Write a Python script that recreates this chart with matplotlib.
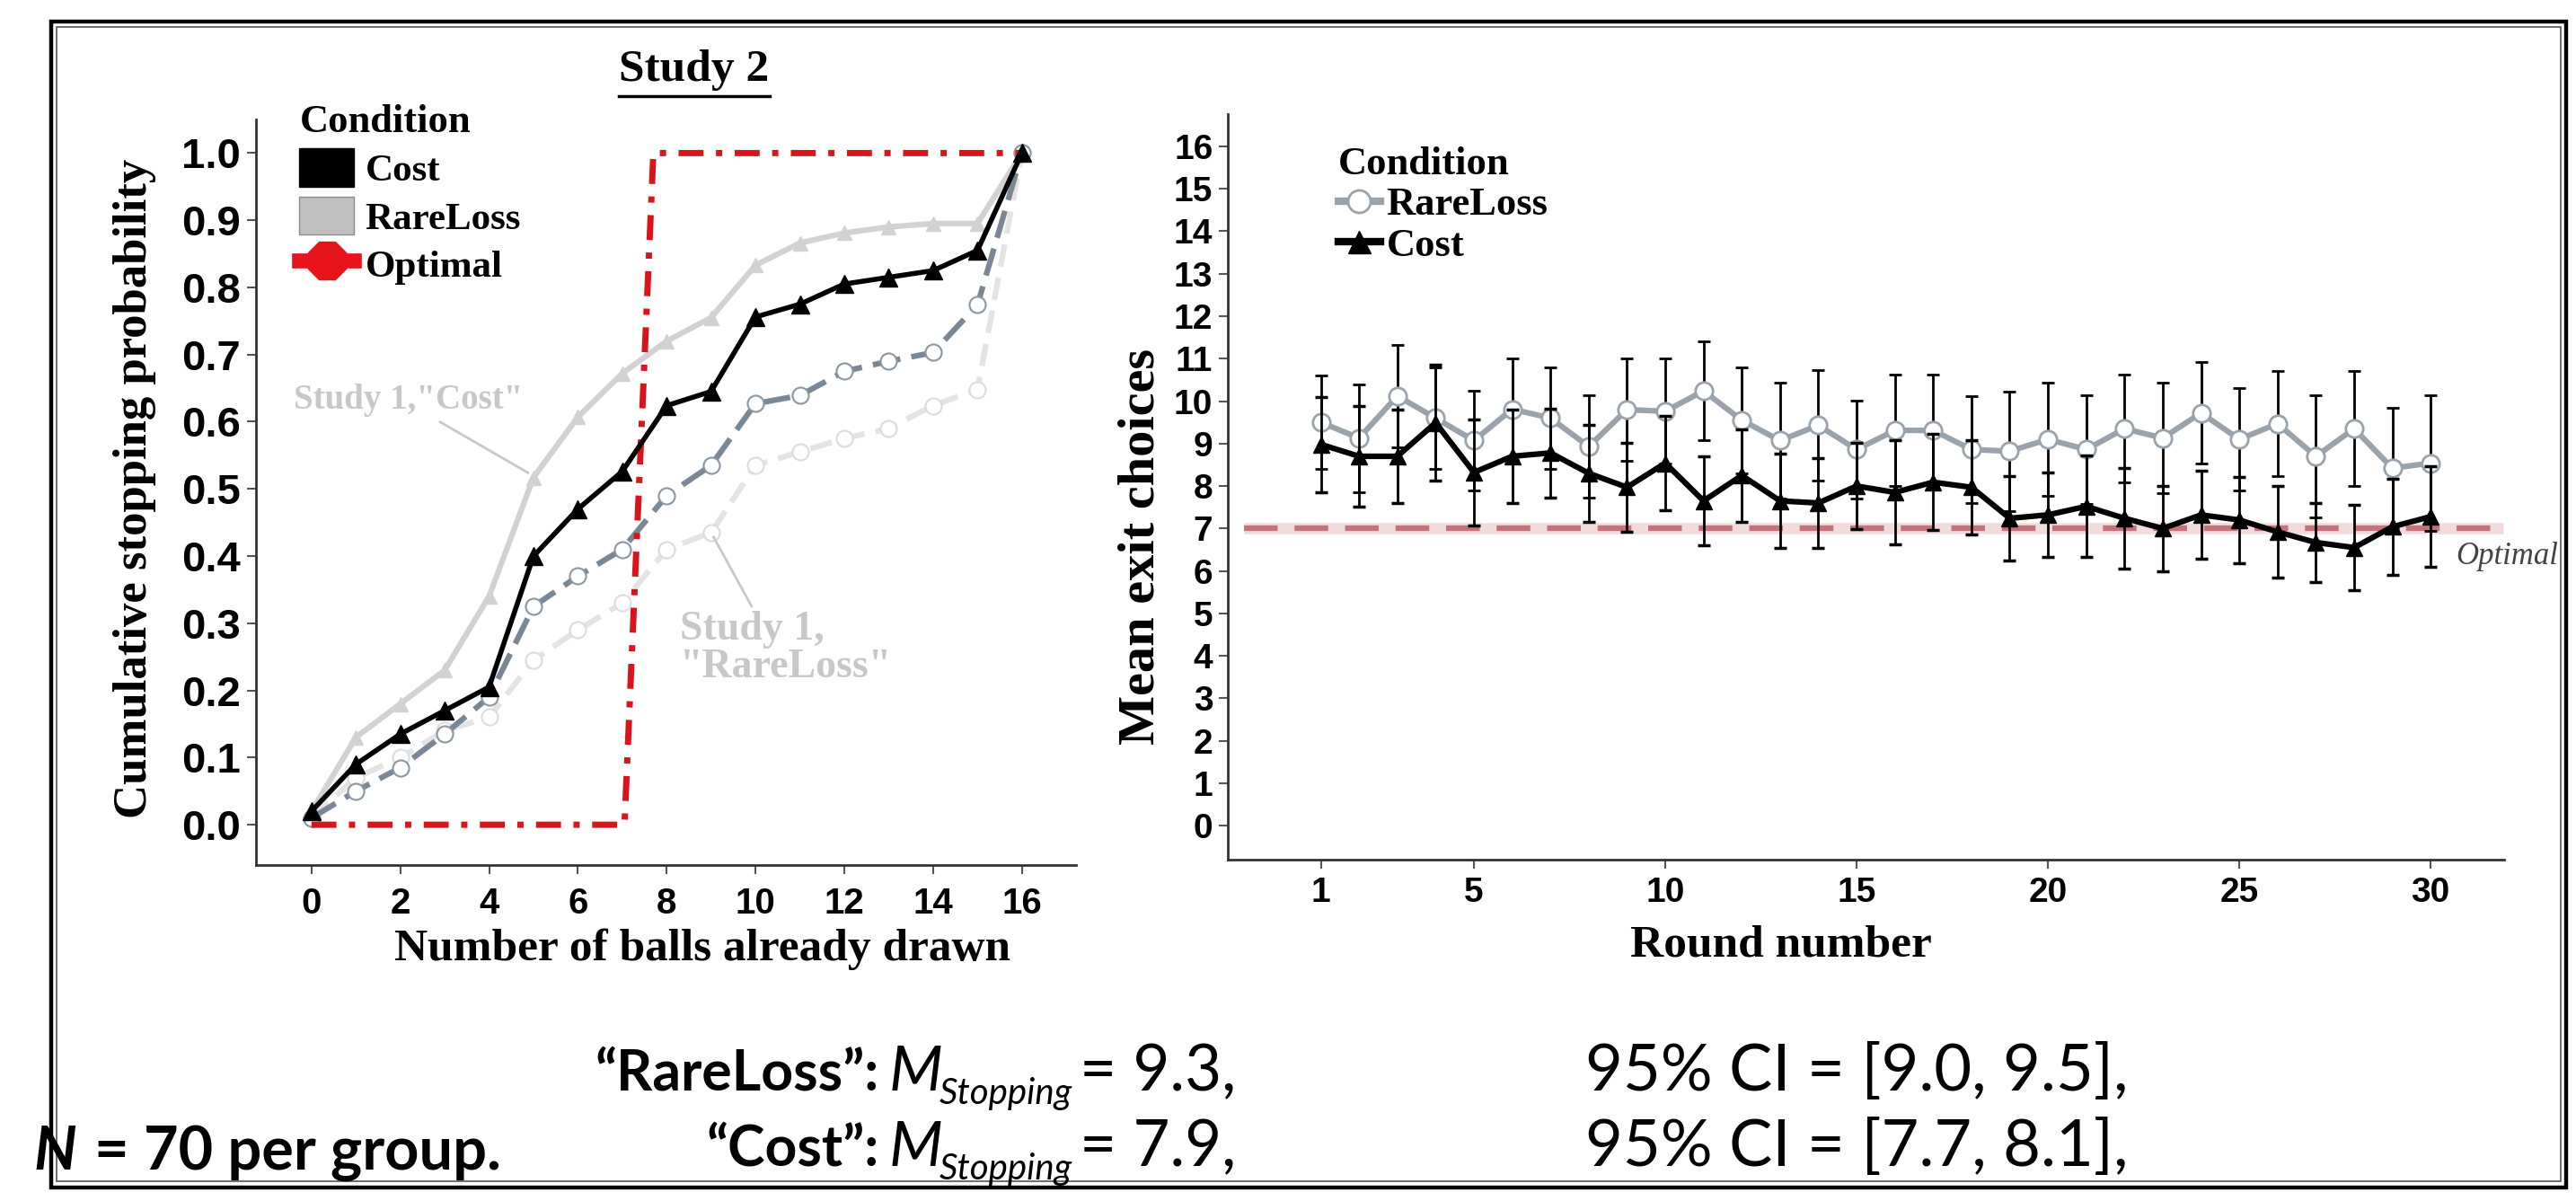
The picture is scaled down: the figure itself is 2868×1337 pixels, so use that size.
import matplotlib
matplotlib.use('Agg')
import matplotlib.pyplot as plt
from matplotlib.lines import Line2D
from matplotlib.patches import Patch, Rectangle

# ---- left panel: cumulative stopping probability ----
balls = list(range(17))
cost_s2 = [0.02, 0.09, 0.135, 0.17, 0.205, 0.40, 0.47, 0.526, 0.624, 0.645, 0.756, 0.775, 0.805, 0.815, 0.825, 0.855, 1.0]
rare_s2 = [0.01, 0.05, 0.085, 0.135, 0.19, 0.325, 0.37, 0.41, 0.49, 0.535, 0.627, 0.639, 0.675, 0.69, 0.703, 0.774, 1.0]
cost_s1 = [0.02, 0.13, 0.18, 0.23, 0.34, 0.517, 0.607, 0.672, 0.72, 0.755, 0.833, 0.866, 0.881, 0.89, 0.895, 0.895, 1.0]
rare_s1 = [0.01, 0.07, 0.10, 0.14, 0.16, 0.245, 0.29, 0.33, 0.41, 0.435, 0.535, 0.555, 0.575, 0.59, 0.624, 0.648, 1.0]
optimal_x = [0, 7.05, 7.7, 16]
optimal_y = [0, 0, 1.0, 1.0]
left_yticks = [0.0, 0.1, 0.2, 0.3, 0.4, 0.5, 0.6, 0.7, 0.8, 0.9, 1.0]
left_xticks = [0, 2, 4, 6, 8, 10, 12, 14, 16]

# ---- right panel: mean exit choices per round ----
rounds = list(range(1, 31))
rare_mean = [9.5, 9.13, 10.12, 9.6, 9.07, 9.81, 9.6, 8.93, 9.8, 9.76, 10.24, 9.55, 9.07, 9.43, 8.86,
             9.31, 9.31, 8.86, 8.82, 9.1, 8.86, 9.35, 9.13, 9.72, 9.1, 9.47, 8.7, 9.35, 8.42, 8.54]
rare_ci = [1.1, 1.27, 1.2, 1.2, 1.17, 1.19, 1.2, 1.2, 1.2, 1.24, 1.16, 1.25, 1.36, 1.3, 1.16,
           1.31, 1.31, 1.26, 1.41, 1.33, 1.28, 1.27, 1.3, 1.2, 1.2, 1.23, 1.44, 1.35, 1.42, 1.6]
cost_mean = [8.98, 8.7, 8.7, 9.49, 8.32, 8.7, 8.78, 8.3, 7.97, 8.54, 7.65, 8.25, 7.65, 7.6, 8.0,
             7.85, 8.09, 7.97, 7.24, 7.32, 7.52, 7.24, 7.0, 7.32, 7.2, 6.92, 6.67, 6.55, 7.04, 7.28]
cost_ci = [1.12, 1.19, 1.1, 1.37, 1.25, 1.1, 1.05, 1.14, 1.05, 1.12, 1.05, 1.09, 1.11, 1.06, 1.02,
           1.22, 1.13, 1.12, 1.0, 0.99, 1.19, 1.18, 1.01, 1.04, 1.01, 1.08, 0.93, 1.01, 1.13, 1.18]
optimal_round = 7
right_xticks = [1, 5, 10, 15, 20, 25, 30]
right_yticks = list(range(17))

SERIF = ['Liberation Serif', 'DejaVu Serif']
SANS = ['Liberation Sans', 'DejaVu Sans']
NOTE = ['Lato', 'DejaVu Sans']

W, H = 2868, 1337
fig = plt.figure(figsize=(W / 100, H / 100), dpi=100)
fig.patch.set_facecolor('white')

# double frame round the slide
fig.add_artist(Rectangle((57 / W, 1 - 1322 / H), (2857 - 57) / W, (1322 - 24) / H,
                         transform=fig.transFigure, fill=False, lw=3.2, ec='black'))
fig.add_artist(Rectangle((63 / W, 1 - 1315 / H), (2851 - 63) / W, (1315 - 30) / H,
                         transform=fig.transFigure, fill=False, lw=1.2, ec='#555555'))


def style_axes(ax):
    for s in ['top', 'right']:
        ax.spines[s].set_visible(False)
    for s in ['left', 'bottom']:
        ax.spines[s].set_color('#333333')
        ax.spines[s].set_linewidth(2.0)
    ax.tick_params(direction='out', length=7, width=1.5, color='#555555')
    ax.set_facecolor('white')


# ================= left panel =================
axL = fig.add_axes([285 / W, 1 - 963 / H, (1198 - 285) / W, (963 - 133) / H])
style_axes(axL)
axL.set_xlim(-1.25, 17.22)
axL.set_ylim(-0.06, 1.05)

axL.plot(balls, rare_s1, color='#e4e4e4', lw=4.5, ls=(0, (4, 2)), marker='o', ms=13,
         mfc='white', mec='#dcdcdc', mew=1.5, zorder=2)
axL.plot(balls, cost_s1, color='#d2d2d2', lw=4.5, marker='^', ms=12, mfc='#d2d2d2', mec='#d2d2d2', zorder=2)
axL.plot(balls, rare_s2, color='#7a8896', lw=4.5, ls=(0, (5, 2)), marker='o', ms=13,
         mfc='white', mec='#8a96a2', mew=1.5, zorder=3)
axL.plot(optimal_x, optimal_y, color='#d9141c', lw=5, ls=(0, (4, 2, 1, 2)), zorder=4)
axL.plot(balls, cost_s2, color='black', lw=4, marker='^', ms=14, zorder=5)

axL.set_xticks(left_xticks)
axL.set_yticks(left_yticks)
axL.set_yticklabels(['%.1f' % v for v in left_yticks])
for lab in axL.get_yticklabels():
    lab.set_fontfamily(SANS); lab.set_fontweight('bold'); lab.set_fontsize(34)
for lab in axL.get_xticklabels():
    lab.set_fontfamily(SANS); lab.set_fontweight('bold'); lab.set_fontsize(29)
axL.tick_params(axis='y', pad=5)
axL.tick_params(axis='x', pad=10)

axL.text(0.544, -0.113, 'Number of balls already drawn', transform=axL.transAxes,
         ha='center', va='center', fontsize=37, fontweight='bold', family=SERIF)
axL.text(-0.148, 0.505, 'Cumulative stopping probability', transform=axL.transAxes,
         ha='center', va='center', rotation=90, fontsize=38, fontweight='bold', family=SERIF)
title = axL.text(0.5345, 1.066, 'Study 2', transform=axL.transAxes, ha='center', va='center',
                 fontsize=37, fontweight='bold', family=SERIF)

axL.annotate('Study 1,"Cost"', xy=(4.93, 0.522), xytext=(-0.4, 0.632), textcoords='data',
             ha='left', va='center', fontsize=28, fontweight='bold', family=SERIF, color='#c8c8c8',
             arrowprops=dict(arrowstyle='-', color='#c8c8c8', lw=2, shrinkA=4, shrinkB=2,
                             relpos=(0.6, 0.0)))
axL.annotate('Study 1,\n"RareLoss"', xy=(9.0, 0.435), xytext=(8.3, 0.262), textcoords='data',
             ha='left', va='center', fontsize=33, fontweight='bold', family=SERIF, color='#c8c8c8',
             linespacing=1.0,
             arrowprops=dict(arrowstyle='-', color='#c8c8c8', lw=2, shrinkA=2, shrinkB=4,
                             relpos=(0.35, 1.0)))

left_handles = [Patch(facecolor='black', edgecolor='black'),
                Patch(facecolor='#bfbfbf', edgecolor='#8c8c8c'),
                Line2D([], [], color='#e8141c', lw=12, marker='8', ms=32)]
legL = axL.legend(left_handles, ['Cost', 'RareLoss', 'Optimal'], title='Condition',
                  loc='upper left', bbox_to_anchor=(0.053, 1.02), frameon=False,
                  borderpad=0, borderaxespad=0, handlelength=1.4, handleheight=1.15,
                  handletextpad=0.3, labelspacing=0.2, alignment='left',
                  prop={'family': SERIF, 'weight': 'bold', 'size': 31},
                  title_fontproperties={'family': SERIF, 'weight': 'bold', 'size': 32})

# ================= right panel =================
axR = fig.add_axes([1367 / W, 1 - 957 / H, (2788 - 1367) / W, (957 - 127) / H])
style_axes(axR)
axR.set_xlim(-1.43, 31.92)
axR.set_ylim(-0.8, 16.76)

axR.plot([-1.0, 31.9], [optimal_round, optimal_round], color='#e8c4c6', lw=9, alpha=0.6,
         solid_capstyle='butt', zorder=1)
axR.plot([-1.0, 31.9], [optimal_round, optimal_round], color='#c5737a', lw=4.5,
         ls=(0, (6, 3)), zorder=1)
axR.errorbar(rounds, rare_mean, yerr=rare_ci, color='#9aa3ab', lw=4.5, marker='o', ms=14,
             mfc='white', mec='#9aa3ab', mew=2, ecolor='black', elinewidth=2,
             capsize=5, capthick=2.5, zorder=3)
axR.errorbar(rounds, cost_mean, yerr=cost_ci, color='black', lw=4.5, marker='^', ms=13,
             ecolor='black', elinewidth=2, capsize=5, capthick=2.5, zorder=4)
axR.text(30.66, 6.33, 'Optimal', ha='left', va='center', fontsize=25, style='italic',
         family=SERIF, color='#444444', clip_on=False)

axR.set_xticks(right_xticks)
axR.set_yticks(right_yticks)
for lab in axR.get_yticklabels():
    lab.set_fontfamily(SANS); lab.set_fontweight('bold'); lab.set_fontsize(28)
for lab in axR.get_xticklabels():
    lab.set_fontfamily(SANS); lab.set_fontweight('bold'); lab.set_fontsize(28)
axR.tick_params(axis='y', pad=5)
axR.tick_params(axis='x', pad=7)

axR.text(0.4335, -0.1145, 'Round number', transform=axR.transAxes, ha='center', va='center',
         fontsize=37, fontweight='bold', family=SERIF)
axR.text(-0.0676, 0.42, 'Mean exit choices', transform=axR.transAxes, ha='center', va='center',
         rotation=90, fontsize=42, fontweight='bold', family=SERIF)

right_handles = [Line2D([], [], color='#9aa3ab', lw=6, marker='o', ms=18, mfc='white',
                        mec='#9aa3ab', mew=2),
                 Line2D([], [], color='black', lw=6, marker='^', ms=18)]
axR.legend(right_handles, ['RareLoss', 'Cost'], title='Condition', loc='upper left',
           bbox_to_anchor=(0.0866, 0.957), frameon=False, borderpad=0, borderaxespad=0,
           handlelength=1.05, handletextpad=0.15, labelspacing=0.12, alignment='left',
           prop={'family': SERIF, 'weight': 'bold', 'size': 32},
           title_fontproperties={'family': SERIF, 'weight': 'bold', 'size': 32})

# ================= summary text under the panels =================
def ftext(x, y, s, **kw):
    return fig.text(x / W, 1 - y / H, s, va='baseline', **kw)


rows = [('\u201cRareLoss\u201d:', '= 9.3,', '95% CI = [9.0, 9.5],', 1214),
        ('\u201cCost\u201d:', '= 7.9,', '95% CI = [7.7, 8.1],', 1298)]
for label, mval, ci, yb in rows:
    ftext(979, yb, label, ha='right', family=NOTE, fontweight='bold', fontsize=45)
    ftext(990, yb, 'M', ha='left', family=NOTE, style='italic', fontsize=50)
    ftext(1046, yb + 15, 'Stopping', ha='left', family=NOTE, style='italic', fontsize=29)
    ftext(1202, yb, mval, ha='left', family=NOTE, fontsize=51)
    ftext(1765, yb, ci, ha='left', family=NOTE, fontsize=52)
n_txt = ftext(37, 1302, 'N', ha='left', family=NOTE, style='italic', fontweight='bold', fontsize=48)

# place the rest of the N note right after the italic N
fig.canvas.draw()
nb = n_txt.get_window_extent()
fig.text((nb.x1 + 20) / W, 1 - 1302 / H, '= 70 per group.', va='baseline', ha='left',
         family=NOTE, fontweight='bold', fontsize=48)

# underline the panel title
bb = title.get_window_extent().transformed(fig.transFigure.inverted())
fig.add_artist(Line2D([bb.x0, bb.x1], [bb.y0 - 0.004, bb.y0 - 0.004], transform=fig.transFigure,
                      color='black', lw=2.5))

fig.savefig('out.png', dpi=100, facecolor='white')
